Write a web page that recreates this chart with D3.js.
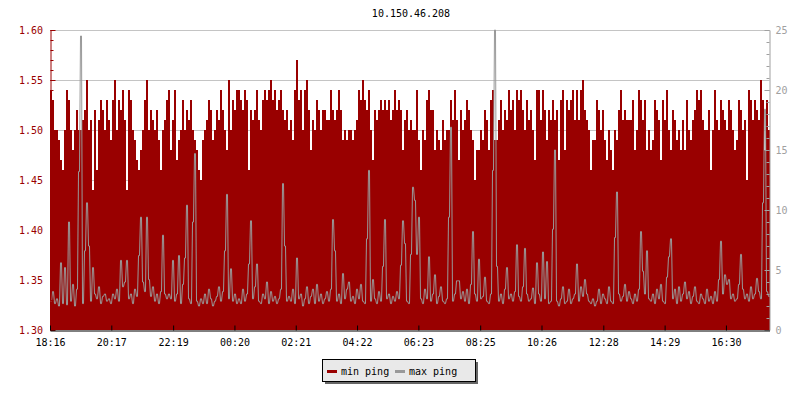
<!DOCTYPE html>
<html>
<head>
<meta charset="utf-8">
<script src="https://cdn.jsdelivr.net/npm/d3@7/dist/d3.min.js"></script>
<style>
  body { margin: 0; background: #fff; }
  text { font-family: "DejaVu Sans Mono", "Liberation Mono", monospace; font-size: 10px; }
</style>
</head>
<body>
<svg id="chart" width="800" height="400"></svg>
<script>
// ---------------- data ----------------
const chartTitle = "10.150.46.208";
const startTime = "18:16";
const endTime = "17:56";          // next day
const xTickLabels = ["18:16","20:17","22:19","00:20","02:21","04:22","06:23","08:25","10:26","12:28","14:29","16:30"];
const leftTicks = [1.30, 1.35, 1.40, 1.45, 1.50, 1.55, 1.60];
const rightTicks = [0, 5, 10, 15, 20, 25];
const seriesNames = ["min ping", "max ping"];

// min ping (left axis)
const minPing = [
  1.54,1.53,1.50,1.50,1.49,1.47,1.46,1.50,1.54,1.53,
  1.50,1.48,1.50,1.52,1.50,1.50,1.51,1.52,1.55,1.50,
  1.51,1.44,1.52,1.46,1.51,1.53,1.52,1.50,1.53,1.51,
  1.49,1.53,1.55,1.50,1.53,1.52,1.54,1.51,1.44,1.54,
  1.53,1.50,1.49,1.47,1.46,1.48,1.50,1.53,1.55,1.50,
  1.52,1.51,1.50,1.52,1.49,1.46,1.50,1.51,1.53,1.54,

  1.48,1.51,1.54,1.47,1.49,1.50,1.53,1.50,1.52,1.51,
  1.53,1.50,1.49,1.48,1.46,1.45,1.49,1.50,1.51,1.53,
  1.52,1.49,1.50,1.52,1.51,1.54,1.52,1.50,1.48,1.55,
  1.50,1.53,1.52,1.54,1.54,1.53,1.52,1.54,1.53,1.46,
  1.52,1.51,1.52,1.54,1.51,1.50,1.53,1.54,1.53,1.54,
  1.55,1.53,1.54,1.52,1.53,1.54,1.52,1.51,1.52,1.50,

  1.51,1.49,1.54,1.57,1.53,1.54,1.50,1.54,1.55,1.52,
  1.48,1.51,1.50,1.53,1.52,1.50,1.52,1.52,1.51,1.51,
  1.54,1.52,1.51,1.52,1.54,1.52,1.49,1.50,1.49,1.50,
  1.50,1.49,1.50,1.51,1.54,1.53,1.55,1.53,1.52,1.54,
  1.50,1.47,1.52,1.51,1.52,1.53,1.52,1.53,1.52,1.53,
  1.51,1.52,1.54,1.52,1.53,1.52,1.48,1.51,1.52,1.50,

  1.51,1.50,1.50,1.54,1.49,1.46,1.50,1.49,1.53,1.54,
  1.52,1.52,1.48,1.50,1.49,1.48,1.51,1.49,1.50,1.50,
  1.53,1.51,1.54,1.51,1.47,1.52,1.50,1.51,1.53,1.52,
  1.50,1.49,1.45,1.48,1.48,1.50,1.49,1.52,1.51,1.48,
  1.53,1.54,1.49,1.49,1.51,1.53,1.50,1.52,1.51,1.54,
  1.52,1.53,1.50,1.54,1.53,1.54,1.52,1.50,1.53,1.51,

  1.52,1.50,1.47,1.54,1.54,1.51,1.54,1.52,1.49,1.52,
  1.51,1.53,1.51,1.52,1.47,1.53,1.54,1.48,1.53,1.52,
  1.53,1.54,1.51,1.54,1.51,1.54,1.55,1.52,1.51,1.50,
  1.46,1.49,1.49,1.53,1.52,1.50,1.52,1.49,1.47,1.50,
  1.48,1.46,1.50,1.49,1.52,1.54,1.51,1.52,1.51,1.51,
  1.51,1.53,1.48,1.50,1.54,1.53,1.51,1.53,1.48,1.50,

  1.48,1.49,1.53,1.52,1.51,1.47,1.53,1.51,1.54,1.50,
  1.48,1.52,1.51,1.49,1.50,1.48,1.51,1.48,1.53,1.50,
  1.49,1.51,1.52,1.54,1.53,1.54,1.51,1.50,1.50,1.52,
  1.46,1.50,1.54,1.51,1.50,1.53,1.52,1.51,1.50,1.53,
  1.52,1.50,1.48,1.49,1.53,1.52,1.50,1.51,1.45,1.54,
  1.53,1.51,1.53,1.52,1.51,1.55,1.53,1.48,1.53,1.50
];

// max ping (right axis)
const maxPing = [
  2.4,3.2,2.2,2.6,2.0,5.6,2.2,5.2,2.1,9.0,
  2.4,3.8,2.0,3.4,13.2,24.5,2.2,6.6,10.6,7.0,
  2.4,5.2,3.0,2.6,3.6,2.2,2.8,3.0,2.4,2.6,
  2.2,3.0,2.6,3.4,2.4,5.8,3.6,4.0,5.8,2.6,
  3.0,2.2,3.4,2.8,6.2,9.4,4.0,3.2,9.4,4.2,
  2.8,3.6,2.4,3.0,2.2,3.2,7.9,3.0,2.6,3.0,

  2.6,5.8,2.4,3.0,6.2,2.2,3.8,6.0,10.4,2.6,
  2.2,9.0,14.7,2.4,2.0,2.6,2.2,3.0,2.2,3.4,
  2.6,2.0,2.4,2.8,3.6,2.4,3.2,6.6,11.3,2.6,
  5.1,2.4,3.0,2.2,2.6,2.2,3.4,2.4,3.0,5.5,
  9.1,2.6,3.6,5.5,2.4,2.2,3.0,2.6,4.0,2.2,
  3.2,2.4,2.8,2.2,2.6,3.4,12.2,7.0,2.4,2.8,

  2.4,3.4,2.2,6.0,2.6,3.0,2.0,2.6,3.6,2.2,
  2.8,3.4,2.2,3.8,2.4,3.0,2.2,2.6,3.2,2.4,
  3.4,9.2,6.6,2.4,3.0,2.2,4.7,2.6,3.4,4.0,
  2.4,2.8,2.2,3.4,2.6,3.8,2.4,2.2,7.6,13.3,
  2.4,4.2,2.6,2.2,3.2,2.4,5.3,9.2,2.6,3.0,
  2.2,2.8,2.4,3.2,2.6,5.4,9.1,7.2,2.4,2.2,

  6.3,11.9,10.8,6.3,9.4,2.6,2.2,3.4,2.6,6.1,
  2.4,3.0,4.6,2.2,2.8,3.6,2.4,2.2,2.6,9.4,
  16.9,2.4,3.0,4.1,4.1,2.6,3.2,2.4,3.4,2.2,
  3.8,8.2,3.0,2.4,5.9,2.6,2.8,4.4,2.4,2.2,
  3.0,13.3,25.0,5.3,2.4,3.0,2.2,3.4,5.2,2.6,
  3.0,2.4,3.2,7.1,2.8,2.4,3.6,6.8,3.0,2.4,

  2.6,3.5,2.2,5.6,3.0,2.4,6.5,2.6,5.7,2.2,
  2.4,8.4,15.0,2.4,2.0,2.6,3.6,2.2,2.4,3.4,
  2.2,2.6,3.0,5.5,2.4,3.6,2.8,4.2,3.0,2.4,
  2.2,2.6,2.0,2.4,3.4,2.2,3.0,2.6,2.2,3.6,
  2.4,2.2,7.7,11.5,3.0,2.4,2.8,3.8,2.4,3.2,
  2.6,2.2,3.0,2.4,3.4,8.2,4.9,3.0,6.6,2.6,

  2.4,3.0,2.2,3.4,2.6,3.8,2.4,2.2,4.4,6.1,
  7.6,2.6,3.4,2.2,3.6,2.4,3.0,4.0,2.6,3.2,
  2.2,2.8,3.6,2.4,2.2,3.0,2.6,2.2,3.4,2.4,
  2.8,2.2,3.2,2.4,4.2,7.4,3.0,4.6,3.8,4.2,
  2.6,3.0,2.4,2.6,3.8,6.3,3.4,2.6,3.0,2.4,
  3.6,2.6,3.0,4.3,3.2,2.6,10.6,18.4,3.2,2.8
];

// ---------------- layout ----------------
const plot = { left: 50, right: 769.5, top: 30, bottom: 330 };
const colMin = "#990000", colMax = "#999999", colGrid = "#c4c4c4", colRightAxis = "#a0a0a0";

function toDate(label, ref) {
  const [h, m] = label.split(":").map(Number);
  let d = new Date(2020, 0, 1, h, m);
  if (ref && d < ref) d = new Date(2020, 0, 2, h, m);
  return d;
}
const t0 = toDate(startTime);
const t1 = toDate(endTime, t0);
const n = minPing.length;
const stepMs = (t1 - t0) / n;
const data = minPing.map((v, i) => ({ t: new Date(+t0 + i * stepMs), min: v, max: maxPing[i] }));

const x = d3.scaleTime().domain([t0, t1]).range([plot.left, plot.right]);
const yL = d3.scaleLinear().domain([1.30, 1.60]).range([plot.bottom, plot.top]);
const yR = d3.scaleLinear().domain([0, 25]).range([plot.bottom, plot.top]);

const svg = d3.select("#chart");

// title
svg.append("text").attr("x", 411).attr("y", 17).attr("text-anchor", "middle")
  .attr("fill", "#000").text(chartTitle);

// grid lines
svg.append("g").selectAll("line").data(leftTicks.filter(v => v > 1.30)).join("line")
  .attr("x1", plot.left).attr("x2", plot.right)
  .attr("y1", d => Math.round(yL(d)) + 0.5).attr("y2", d => Math.round(yL(d)) + 0.5)
  .attr("stroke", colGrid).attr("stroke-width", 1);

// min ping area (steps)
const areaData = data.concat([{ t: t1, min: data[n - 1].min, max: data[n - 1].max }]);
const area = d3.area().curve(d3.curveStepAfter)
  .x(d => x(d.t)).y0(yL(1.30)).y1(d => yL(d.min));
svg.append("path").datum(areaData).attr("d", area).attr("fill", colMin)
  .attr("shape-rendering", "crispEdges");

// max ping line: 1px plateau per sample, near-vertical transitions
const linePts = data.flatMap(d => [
  [Math.round(x(d.t)) + 0.5, yR(d.max)],
  [Math.round(x(d.t)) + 1.5, yR(d.max)]
]);
const line = d3.line().x(p => p[0]).y(p => p[1]);
svg.append("path").datum(linePts).attr("d", line).attr("fill", "none")
  .attr("stroke", colMax).attr("stroke-width", 1);

// left axis (ticks inside)
const leftMinor = d3.range(130, 161).map(v => v / 100);
const gL = svg.append("g").attr("transform", `translate(${plot.left + 0.5},0)`);
gL.call(d3.axisRight(yL).tickValues(leftMinor).tickSize(3).tickSizeOuter(0).tickFormat(""));
gL.call(g => g.selectAll(".tick line").attr("stroke", colMin));
gL.select(".domain").attr("stroke", colMin);
const gL2 = svg.append("g").attr("transform", `translate(${plot.left + 0.5},0)`);
gL2.call(d3.axisRight(yL).tickValues(leftTicks).tickSize(5).tickSizeOuter(0).tickFormat(""));
gL2.call(g => g.selectAll(".tick line").attr("stroke", colMin));
gL2.select(".domain").remove();
const gL3 = svg.append("g").attr("transform", `translate(${plot.left},0)`);
gL3.call(d3.axisLeft(yL).tickValues(leftTicks).tickSize(0).tickPadding(7).tickFormat(d3.format(".2f")));
gL3.select(".domain").remove();
gL3.selectAll("text").attr("fill", colMin).style("font-family", "DejaVu Sans Mono").style("font-size", "10px");

// right axis
const rightMinor = d3.range(0, 26);
const gR = svg.append("g").attr("transform", `translate(${plot.right},0)`);
gR.call(d3.axisLeft(yR).tickValues(rightMinor).tickSize(3).tickSizeOuter(0).tickFormat(""));
gR.selectAll(".tick line").attr("stroke", colRightAxis);
gR.select(".domain").attr("stroke", colRightAxis);
const gR2 = svg.append("g").attr("transform", `translate(${plot.right},0)`);
gR2.call(d3.axisLeft(yR).tickValues(rightTicks).tickSize(5).tickSizeOuter(0).tickFormat(""));
gR2.selectAll(".tick line").attr("stroke", colRightAxis);
gR2.select(".domain").remove();
const gR3 = svg.append("g").attr("transform", `translate(${plot.right},0)`);
gR3.call(d3.axisRight(yR).tickValues(rightTicks).tickSize(0).tickPadding(6));
gR3.select(".domain").remove();
gR3.selectAll("text").attr("fill", colRightAxis).style("font-family", "DejaVu Sans Mono").style("font-size", "10px");

// bottom axis
const xTickDates = xTickLabels.map(l => toDate(l, t0));
const gX = svg.append("g").attr("transform", `translate(0,${plot.bottom + 0.5})`);
gX.call(d3.axisBottom(x).tickValues(xTickDates).tickSize(-5).tickSizeOuter(0).tickPadding(8)
  .tickFormat((d, i) => xTickLabels[i]));
gX.select(".domain").attr("stroke", "#000");
gX.selectAll(".tick line").attr("stroke", "#000");
gX.selectAll("text").attr("fill", "#000").style("font-family", "DejaVu Sans Mono").style("font-size", "10px");

// legend
const lg = svg.append("g");
lg.append("rect").attr("x", 325).attr("y", 362).attr("width", 153).attr("height", 22).attr("fill", "#666");
lg.append("rect").attr("x", 322.5).attr("y", 359.5).attr("width", 153).attr("height", 22)
  .attr("fill", "#e9e9e9").attr("stroke", "#000");
const items = [
  { name: seriesNames[0], color: colMin, x: 327 },
  { name: seriesNames[1], color: colMax, x: 395 }
];
items.forEach(it => {
  lg.append("line").attr("x1", it.x).attr("x2", it.x + 10).attr("y1", 371.5).attr("y2", 371.5)
    .attr("stroke", it.color).attr("stroke-width", 3);
  lg.append("text").attr("x", it.x + 14).attr("y", 374.5).attr("fill", "#000").text(it.name);
});
</script>
</body>
</html>
